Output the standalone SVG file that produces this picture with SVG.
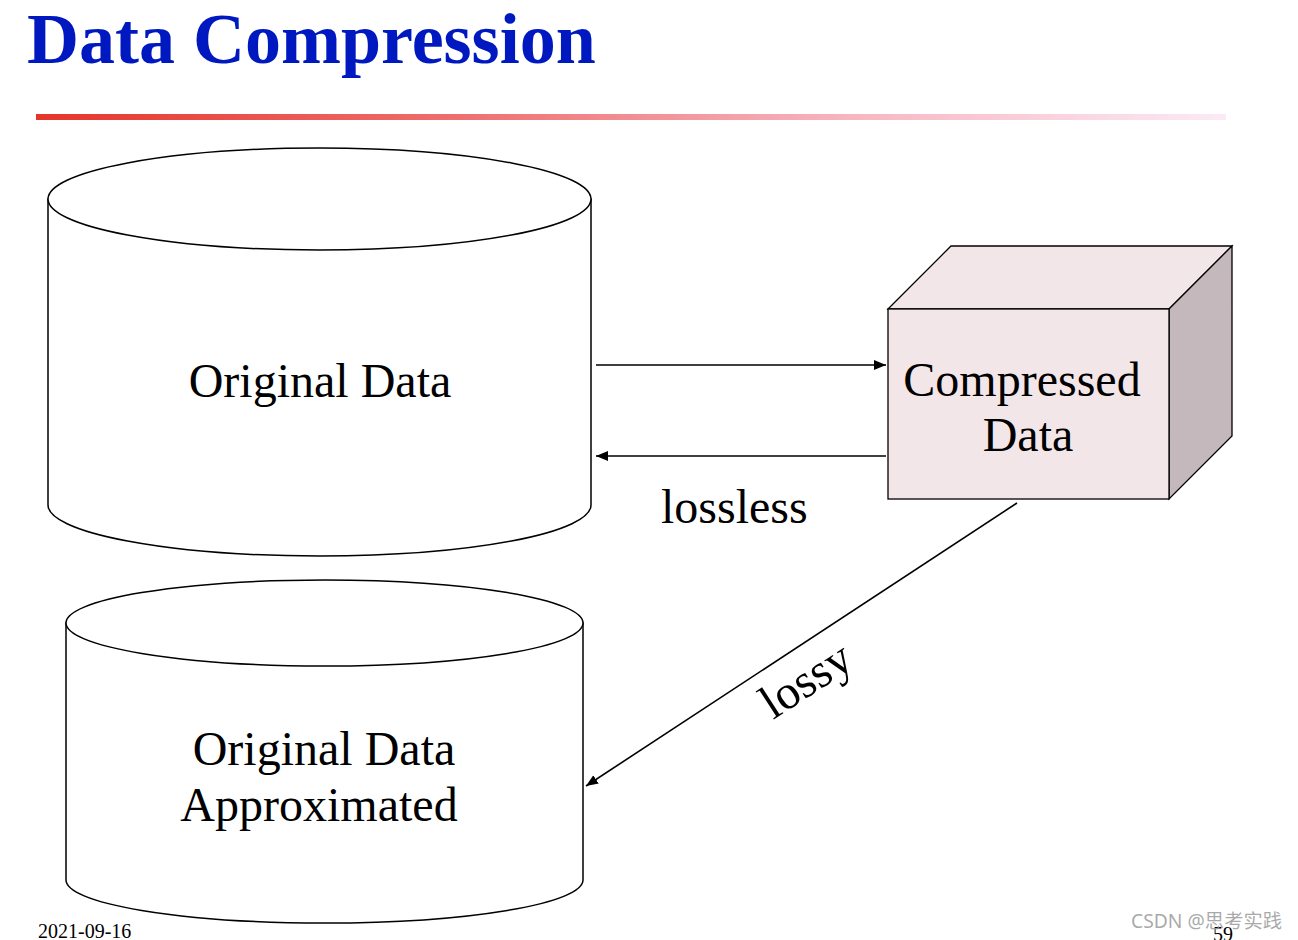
<svg xmlns="http://www.w3.org/2000/svg" width="1298" height="940" viewBox="0 0 1298 940">
<defs>
<linearGradient id="rule" x1="0" y1="0" x2="1" y2="0">
<stop offset="0" stop-color="#E6352B"/>
<stop offset="0.35" stop-color="#EE6E6E"/>
<stop offset="0.7" stop-color="#F7B9C4"/>
<stop offset="1" stop-color="#FBEAF6"/>
</linearGradient>
<marker id="ah" markerUnits="userSpaceOnUse" markerWidth="14" markerHeight="12" refX="12" refY="5" orient="auto">
<path d="M0,0 L12,5 L0,10 Z" fill="#000"/>
</marker>
</defs>
<style>
.cyl{fill:#fff;stroke:#000;stroke-width:1.5}
.lbl{font-family:"Liberation Serif","Times New Roman",serif;font-size:48px;fill:#000}
.conn{stroke:#000;stroke-width:1.6;fill:none;marker-end:url(#ah)}
.foot{font-family:"Liberation Serif","Times New Roman",serif;font-size:20px;fill:#000}
</style>
<rect width="1298" height="940" fill="#fff"/>
<text x="27" y="63" font-family="'Liberation Serif','Times New Roman',serif" font-weight="bold" font-size="72" fill="#0018C0">Data Compression</text>
<rect x="36" y="114" width="1190" height="6" fill="url(#rule)"/>

<g id="original">
<path class="cyl" d="M48,199 L48,505 A271.5,51 0 0 0 591,505 L591,199 Z"/>
<ellipse class="cyl" cx="319.5" cy="199" rx="271.5" ry="51"/>
<text class="lbl" x="320" y="397" text-anchor="middle">Original Data</text>
</g>

<g id="approx">
<path class="cyl" d="M66,623 L66,880 A258.5,43 0 0 0 583,880 L583,623 Z"/>
<ellipse class="cyl" cx="324.5" cy="623" rx="258.5" ry="43"/>
<text class="lbl" x="324" y="765" text-anchor="middle">Original Data</text>
<text class="lbl" x="319" y="821" text-anchor="middle">Approximated</text>
</g>

<g id="compressed">
<polygon points="888,309 951,246 1232,246 1169,309" fill="#F3E6E8" stroke="#000" stroke-width="1.3"/>
<polygon points="1169,309 1232,246 1232,436 1169,499" fill="#C4B8BC" stroke="#000" stroke-width="1.3"/>
<rect x="888" y="309" width="281" height="190" fill="#F3E6E8" stroke="#000" stroke-width="1.3"/>
<text class="lbl" x="1022" y="396" text-anchor="middle">Compressed</text>
<text class="lbl" x="1028" y="451" text-anchor="middle">Data</text>
</g>

<g id="connectors">
<line class="conn" x1="596" y1="365" x2="886" y2="365"/>
<line class="conn" x1="886" y1="456" x2="596" y2="456"/>
<line class="conn" x1="1017" y1="503" x2="586" y2="786"/>
<text class="lbl" x="661" y="523">lossless</text>
<text class="lbl" transform="translate(773,720) rotate(-33)">lossy</text>
</g>

<text class="foot" x="38" y="938">2021-09-16</text>
<text class="foot" x="1213" y="941">59</text>
<text x="1131" y="928" font-family="'Noto Sans','Noto Sans CJK SC',sans-serif" font-size="19.3" fill="#9a9a9a" fill-opacity="0.85">CSDN @思考实践</text>
</svg>
